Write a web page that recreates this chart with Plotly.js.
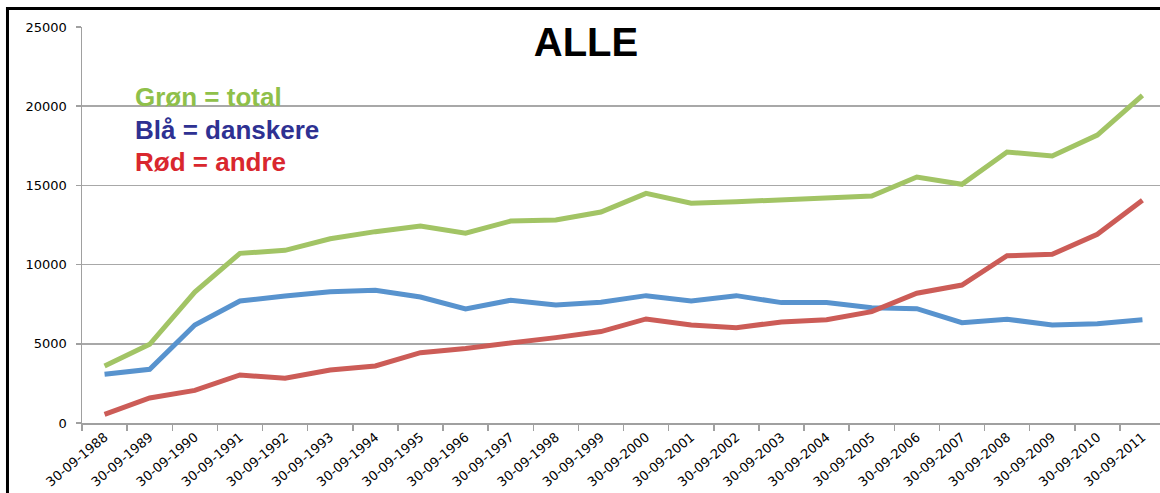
<!DOCTYPE html>
<html>
<head>
<meta charset="utf-8">
<script src="https://cdn.plot.ly/plotly-3.0.1.min.js"></script>
<style>
html,body{margin:0;padding:0;overflow:hidden;background:#fff;}
#chart{width:1165px;height:493px;}
</style>
</head>
<body>
<div id="chart"></div>
<script>
var dates = ["30-09-1988","30-09-1989","30-09-1990","30-09-1991","30-09-1992","30-09-1993","30-09-1994","30-09-1995","30-09-1996","30-09-1997","30-09-1998","30-09-1999","30-09-2000","30-09-2001","30-09-2002","30-09-2003","30-09-2004","30-09-2005","30-09-2006","30-09-2007","30-09-2008","30-09-2009","30-09-2010","30-09-2011"];
var total =    [3600,4970,8270,10710,10900,11630,12080,12440,11980,12750,12820,13320,14500,13870,13970,14080,14160,14330,15530,15070,17110,16860,18180,20690];
var danskere = [3075,3390,6190,7700,8020,8290,8380,7950,7200,7750,7450,7620,8040,7700,8040,7600,7600,7280,7220,6330,6550,6190,6270,6520];
var andre =    [550,1580,2060,3030,2820,3350,3600,4440,4710,5030,5390,5770,6570,6190,6020,6380,6520,7030,8190,8710,10560,10650,11910,14060];
var yTicks = [0,5000,10000,15000,20000,25000];

var traces = [
  {x: dates, y: total, type: 'scatter', mode: 'lines', line: {color: '#A2C465', width: 5}, hoverinfo: 'y'},
  {x: dates, y: danskere, type: 'scatter', mode: 'lines', line: {color: '#5893CE', width: 5}, hoverinfo: 'y'},
  {x: dates, y: andre, type: 'scatter', mode: 'lines', line: {color: '#CC5C57', width: 5}, hoverinfo: 'y'}
];

var layout = {
  width: 1165, height: 493,
  margin: {l: 82, r: 0, t: 27, b: 70},
  paper_bgcolor: '#ffffff', plot_bgcolor: '#ffffff',
  showlegend: false,
  title: {text: '<b>ALLE</b>', font: {family: 'Liberation Sans, Arial, sans-serif', size: 40, color: '#000'},
          xref: 'container', yref: 'container', x: 0.503, xanchor: 'center', y: 0.914, yanchor: 'middle'},
  xaxis: {type: 'category', range: [-0.5, dates.length - 0.5], tickson: 'boundaries', ticks: 'outside', ticklen: 6, tickcolor: '#A0A0A0', tickwidth: 1.5,
          showline: true, linecolor: '#A0A0A0', linewidth: 1.5, showgrid: false, zeroline: false,
          tickangle: -40, tickfont: {family: 'DejaVu Sans, sans-serif', size: 13, color: '#000'}, fixedrange: true},
  yaxis: {range: [0, 25000], tickvals: yTicks, ticktext: yTicks.map(String), ticks: 'outside', ticklen: 5,
          tickcolor: '#A0A0A0', tickwidth: 1.5, showline: true, linecolor: '#A0A0A0', linewidth: 1.5,
          showgrid: true, gridcolor: '#A8A8A8', gridwidth: 1.5, zeroline: false,
          tickfont: {family: 'DejaVu Sans, sans-serif', size: 13, color: '#000'}, ticklabelstandoff: 6, fixedrange: true},
  annotations: [
    {text: '<b>Grøn = total</b>', xref: 'paper', yref: 'paper', x: 0.0471, y: 0.823, xanchor: 'left', yanchor: 'middle', showarrow: false,
     font: {family: 'Liberation Sans, Arial, sans-serif', size: 26, color: '#8FC04A'}},
    {text: '<b>Blå = danskere</b>', xref: 'paper', yref: 'paper', x: 0.0471, y: 0.741, xanchor: 'left', yanchor: 'middle', showarrow: false,
     font: {family: 'Liberation Sans, Arial, sans-serif', size: 26, color: '#2E3192'}},
    {text: '<b>Rød = andre</b>', xref: 'paper', yref: 'paper', x: 0.0471, y: 0.659, xanchor: 'left', yanchor: 'middle', showarrow: false,
     font: {family: 'Liberation Sans, Arial, sans-serif', size: 26, color: '#D9272E'}}
  ],
  shapes: [
    {type: 'line', xref: 'paper', yref: 'paper', x0: -0.0688, x1: -0.0688, y0: -0.2, y1: 1.0467, line: {color: '#000', width: 3}},
    {type: 'line', xref: 'paper', yref: 'paper', x0: -0.0702, x1: 1.01, y0: 1.0467, y1: 1.0467, line: {color: '#000', width: 3}}
  ]
};

Plotly.newPlot('chart', traces, layout, {displayModeBar: false, staticPlot: true});
</script>
</body>
</html>
